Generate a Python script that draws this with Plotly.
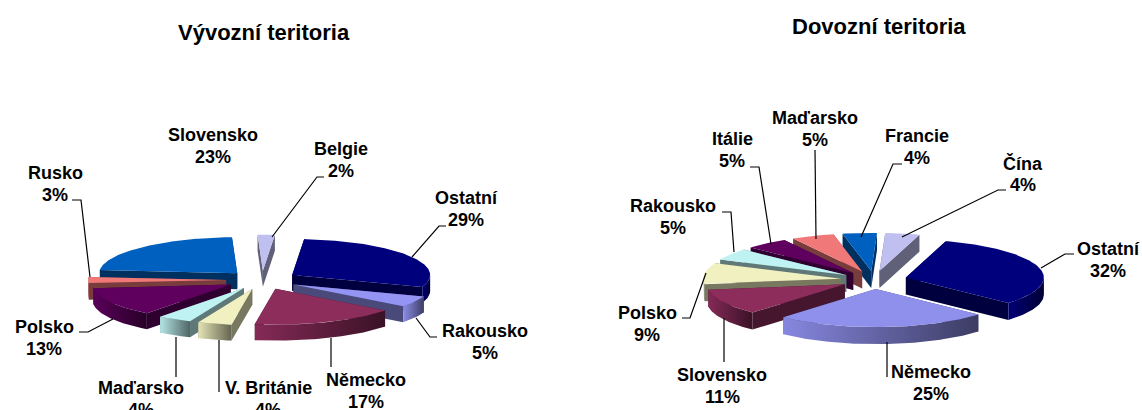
import math
import plotly.graph_objects as go

# ---- data ----
export_names = ["Ostatní", "Rakousko", "Německo", "V. Británie", "Maďarsko", "Polsko", "Rusko", "Slovensko", "Belgie"]
export_values = [29, 5, 17, 4, 4, 13, 3, 23, 2]
import_names = ["Ostatní", "Německo", "Slovensko", "Polsko", "Rakousko", "Itálie", "Maďarsko", "Francie", "Čína"]
import_values = [32, 25, 11, 9, 5, 5, 5, 4, 4]
export_title = "Vývozní teritoria"
import_title = "Dovozní teritoria"

# ---- styles ----
export_colors = ["#00007d", "#9494f5", "#8c2d5c", "#f0f0c0", "#bff2f2", "#5f005f", "#f07878", "#0060c0", "#c0c0f0"]
import_colors = ["#00007d", "#8f8fec", "#8c2d5c", "#f0f0c0", "#bff2f2", "#5f005f", "#f07878", "#0060c0", "#c0c0f0"]
FONT = "Liberation Sans, Arial, sans-serif"
FS = 18
TITLE_FS = 22
LINE_GAP = 21.5

export_geom = dict(cx=262, cy=280, rx=138, ry=36, depth=16, start=5, pull=0.26)
import_geom = dict(cx=874, cy=280, rx=138, ry=38, depth=17, start=16.8, pull=0.24)

export_labels = [(466, 209), (485, 342), (366, 391), (268, 399), (141, 399), (44, 338), (55, 184), (213, 146), (341, 160)]
import_labels = [(1108, 260), (931, 383), (722, 386), (647, 324), (673, 217), (732, 150), (815, 129), (917, 147), (1023, 174)]

export_leaders = [
    [(446, 226), (439, 226), (412, 257)], [(437, 337), (430, 337), (416, 318)],
    [(331, 338), (331, 367)], [(219, 340), (219, 392)], [(176, 337), (176, 377)],
    [(79, 332), (88, 332), (113, 319)], [(72, 200), (81, 200), (90, 277)],
    [(324, 177), (317, 177), (272, 237)],
]
import_leaders = [
    [(1074, 254), (1065, 254), (1041, 268)], [(887, 342), (887, 377)], [(724, 318), (724, 362)],
    [(682, 318), (690, 318), (706, 273)], [(722, 212), (731, 212), (734, 252)],
    [(750, 167), (759, 167), (771, 244)], [(815, 150), (816, 239)],
    [(902, 164), (893, 164), (861, 237)], [(1006, 190), (998, 190), (902, 237)],
]


def shade(hexcolor, k):
    r, g, b = (int(hexcolor[i:i + 2], 16) for i in (1, 3, 5))
    return "#%02x%02x%02x" % (int(r * k), int(g * k), int(b * k))


def add_poly(fig, xs, ys, color, gradient=None):
    kw = dict(fillcolor=color)
    if gradient:
        kw = dict(fillgradient=dict(type="horizontal", colorscale=[[0, gradient[0]], [1, gradient[1]]]))
    fig.add_trace(go.Scatter(x=xs, y=ys, mode="lines", fill="toself", line=dict(width=0, color=color),
                             hoverinfo="skip", showlegend=False, **kw))


def add_pie(fig, values, colors, g):
    total = sum(values)
    slices = []
    a = g["start"]
    for v, c in zip(values, colors):
        sweep = 360.0 * v / total
        slices.append((a, a + sweep, c))
        a += sweep
    # back to front
    slices.sort(key=lambda s: -math.cos(math.radians((s[0] + s[1]) / 2)))
    for t0, t1, col in slices:
        tm = math.radians((t0 + t1) / 2)
        ax = g["cx"] + g["pull"] * g["rx"] * math.sin(tm)
        ay = g["cy"] - g["pull"] * g["ry"] * math.cos(tm)
        pt = lambda t: (ax + g["rx"] * math.sin(math.radians(t)), ay - g["ry"] * math.cos(math.radians(t)))
        d = g["depth"]
        # radial walls
        for t in (t0, t1):
            x, y = pt(t)
            add_poly(fig, [ax, x, x, ax, ax], [ay, y, y + d, ay + d, ay], shade(col, 0.5))
        # outer wall, only where it faces the viewer
        for shift in (0, 360):
            lo, hi = max(t0, 90 + shift), min(t1, 270 + shift)
            if hi > lo:
                n = max(int(hi - lo), 2)
                ts = [lo + (hi - lo) * i / n for i in range(n + 1)]
                top = [pt(t) for t in ts]
                xs = [p[0] for p in top] + [p[0] for p in reversed(top)]
                ys = [p[1] for p in top] + [p[1] + d for p in reversed(top)]
                add_poly(fig, xs + xs[:1], ys + ys[:1], col, gradient=(shade(col, 0.95), shade(col, 0.42)))
        # top face
        n = max(int(t1 - t0), 2)
        arc = [pt(t0 + (t1 - t0) * i / n) for i in range(n + 1)]
        add_poly(fig, [ax] + [p[0] for p in arc] + [ax], [ay] + [p[1] for p in arc] + [ay], col)


fig = go.Figure()
add_pie(fig, export_values, export_colors, export_geom)
add_pie(fig, import_values, import_colors, import_geom)

for poly in export_leaders + import_leaders:
    fig.add_trace(go.Scatter(x=[p[0] for p in poly], y=[p[1] for p in poly], mode="lines",
                             line=dict(color="#000000", width=1.2), hoverinfo="skip", showlegend=False))

annotations = []
for names, values, labels in ((export_names, export_values, export_labels), (import_names, import_values, import_labels)):
    for n, v, (x, y) in zip(names, values, labels):
        for text, yy in ((n, y - LINE_GAP / 2), (f"{v}%", y + LINE_GAP / 2)):
            annotations.append(dict(x=x, y=yy, text=f"<b>{text}</b>", showarrow=False, xanchor="center", yanchor="middle",
                                    font=dict(family=FONT, size=FS, color="#000000")))
annotations.append(dict(x=264, y=32, text=f"<b>{export_title}</b>", showarrow=False, font=dict(family=FONT, size=TITLE_FS, color="#000000")))
annotations.append(dict(x=879, y=26, text=f"<b>{import_title}</b>", showarrow=False, font=dict(family=FONT, size=TITLE_FS, color="#000000")))

fig.update_layout(
    width=1142, height=410, margin=dict(l=0, r=0, t=0, b=0), autosize=False,
    paper_bgcolor="#ffffff", plot_bgcolor="#ffffff", showlegend=False, annotations=annotations,
    xaxis=dict(range=[0, 1142], visible=False, fixedrange=True),
    yaxis=dict(range=[410, 0], visible=False, fixedrange=True),
)
fig.write_html("out.html", config={"displayModeBar": False},
               post_script="document.body.style.margin='0';document.body.style.overflow='hidden';")
